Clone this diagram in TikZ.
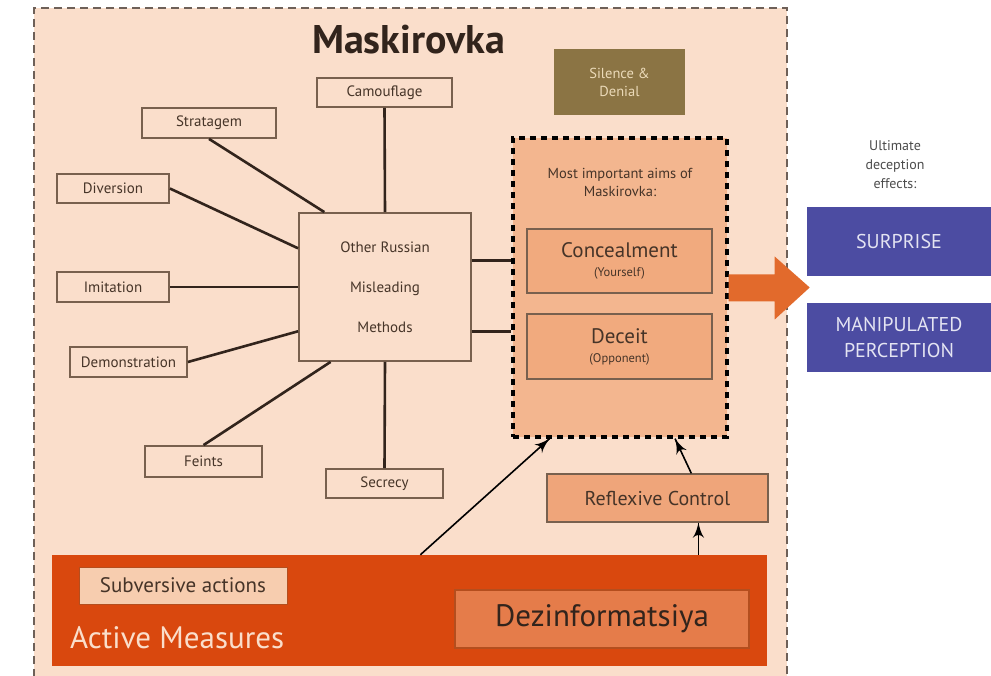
\documentclass[tikz,border=0pt]{standalone}
\usepackage{fontspec}
\setmainfont{PT Sans}
\usetikzlibrary{arrows}
\usetikzlibrary{decorations.markings}
\usetikzlibrary{positioning}
\definecolor{mpeach}{RGB}{250,222,203}
\definecolor{mframe}{RGB}{110,96,88}
\definecolor{mbrown}{RGB}{120,96,78}
\definecolor{mline}{RGB}{50,36,28}
\definecolor{mtext}{RGB}{70,52,40}
\definecolor{maims}{RGB}{243,182,143}
\definecolor{maimbox}{RGB}{241,170,126}
\definecolor{mreflex}{RGB}{239,165,122}
\definecolor{mred}{RGB}{217,72,14}
\definecolor{mdezin}{RGB}{229,124,74}
\definecolor{mdezinb}{RGB}{180,78,30}
\definecolor{msubv}{RGB}{247,205,175}
\definecolor{molive}{RGB}{139,116,68}
\definecolor{mlight}{RGB}{235,218,185}
\definecolor{morange}{RGB}{226,106,44}
\definecolor{mblue}{RGB}{76,76,162}
\definecolor{mwhite}{RGB}{228,228,242}
\tikzset{method/.style = {draw=mbrown, line width=1.8pt, fill=mpeach, text=mtext,
                          font=\fontsize{15}{17}\selectfont, inner sep=0pt},
         aim/.style = {draw=mbrown, line width=1.8pt, fill=maimbox, text=mtext,
                       align=center, inner sep=0pt},
         effect/.style = {fill=mblue, text=mwhite, align=center, inner sep=0pt,
                          font=\fontsize{20}{26}\selectfont},
         link/.style = {mline, line width=2.6pt},
         push/.style = {black, line width=1.6pt,
                        decoration={markings,
                                    mark=at position 1 with {\arrow[scale=2]{latex'}}},
                        postaction={decorate}}}

\begin{document}
\begin{tikzpicture}[x=1pt, y=-1pt]
    \useasboundingbox [fill=white] (0, 0) rectangle (991, 676);
    \fill [mpeach] (34, 8) rectangle (787, 690);
    \draw [mframe, line width=1.8pt, dash pattern=on 8pt off 5pt] (34, 690) -- (34, 8) -- (787, 8) -- (787, 690);
    \node [anchor=base, font=\fontsize{40}{44}\selectfont\bfseries, text=mline] (title) at (408.5, 54) {Maskirovka};

    \node [method, minimum width=135, minimum height=29] (camouflage) at (384.5, 92.5) {Camouflage};
    \node [method, minimum width=134, minimum height=30] (stratagem) at (209, 123) {Stratagem};
    \node [method, minimum width=112, minimum height=29] (diversion) at (113, 188.5) {Diversion};
    \node [method, minimum width=112, minimum height=30] (imitation) at (113, 287) {Imitation};
    \node [method, minimum width=117, minimum height=30] (demonstration) at (128.5, 362) {Demonstration};
    \node [method, minimum width=117, minimum height=31] (feints) at (203.5, 461.5) {Feints};
    \node [method, minimum width=117, minimum height=29] (secrecy) at (384.5, 483.5) {Secrecy};
    \node [method, minimum width=172, minimum height=148, align=center,
           font=\fontsize{15}{40}\selectfont] (methods) at (385, 287) {Other Russian\\Misleading\\Methods};

    \node [fill=molive, text=mlight, align=center, minimum width=131, minimum height=66,
           inner sep=0pt, font=\fontsize{14.5}{18}\selectfont] (silence) at (619.5, 82) {Silence \&\\Denial};

    \node [fill=maims, draw=black, line width=3.4pt, dash pattern=on 6pt off 5pt,
           minimum width=214, minimum height=299] (aims) at (620, 287.5) {};
    \node [text=mtext, align=center, font=\fontsize{14.5}{18}\selectfont] (aimstext) at (620, 182) {Most important aims of\\Maskirovka:};
    \node [aim, minimum width=185, minimum height=64] (concealment) at (619.5, 261)
          {\fontsize{21}{23}\selectfont Concealment\\[7pt]\fontsize{12.5}{13}\selectfont (Yourself)};
    \node [aim, minimum width=185, minimum height=65] (deceit) at (619.5, 346.5)
          {\fontsize{21}{23}\selectfont Deceit\\[7pt]\fontsize{12.5}{13}\selectfont (Opponent)};

    \node [fill=mreflex, draw=mbrown, line width=1.2pt, text=mtext, minimum width=221, minimum height=48,
           inner sep=0pt, font=\fontsize{20}{22}\selectfont] (reflexive) at (657.5, 498) {Reflexive Control};

    \node [fill=mred, minimum width=715, minimum height=111, inner sep=0pt] (active) at (409.5, 610.5) {};
    \node [anchor=base west, text=mpeach, inner sep=0pt, font=\fontsize{31}{34}\selectfont] (activetext) at (70, 648) {Active Measures};
    \node [fill=msubv, draw=mdezinb, line width=1pt, text=mtext, minimum width=208, minimum height=37,
           inner sep=0pt, font=\fontsize{21}{23}\selectfont] (subversive) at (183, 585.5) {Subversive actions};
    \node [fill=mdezin, draw=mdezinb, line width=1.6pt, text=mline, minimum width=294, minimum height=58,
           inner sep=0pt, font=\fontsize{31}{34}\selectfont] (dezinfo) at (602, 619) {Dezinformatsiya};

    \node [text=black!70, align=center, font=\fontsize{14}{19}\selectfont] (ultimate) at (895, 165) {Ultimate\\deception\\effects:};
    \node [effect, minimum width=184, minimum height=69] (surprise) at (899, 241.5) {SURPRISE};
    \node [effect, minimum width=184, minimum height=69] (perception) at (899, 337.5) {MANIPULATED\\PERCEPTION};

    \fill [morange] (aims.east) ++(0, -13) -- ++(46, 0) -- ++(0, -18) -- ++(35, 31) -- ++(-35, 32)
          -- ++(0, -18) -- ++(-46, 0) -- cycle;

    \draw [link] (camouflage.south) -- (methods.north);
    \draw [link] (stratagem.south) -- (methods.129);
    \draw [link] (diversion.east) -- (methods.156);
    \draw [link] (imitation.east) -- (imitation.east -| methods.west);
    \draw [link] (demonstration.east) -- (methods.207);
    \draw [link] (feints.north) -- (methods.234);
    \draw [link] (secrecy.north) -- (methods.south);
    \draw [link] (methods.17) -- (methods.17 -| aims.west);
    \draw [link] (methods.-27) -- (methods.-27 -| aims.west);

    \draw [push] (active.79) -- (aims.245);
    \draw [push] (reflexive.36) -- (aims.290);
    \draw [push] (reflexive.-31 |- active.north) -- (reflexive.-31);
\end{tikzpicture}
\end{document}
